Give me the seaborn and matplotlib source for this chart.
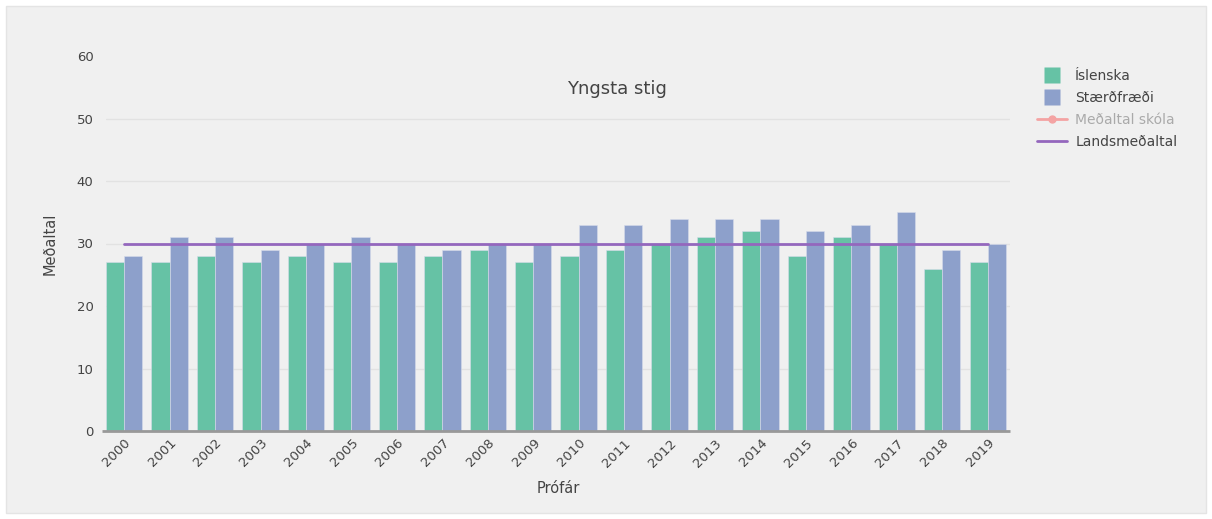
import numpy as np
import pandas as pd
import seaborn as sns
import matplotlib.pyplot as plt
from matplotlib.patches import Rectangle
from matplotlib.lines import Line2D

# Data
years = [str(y) for y in range(2000, 2020)]
islenska = [27, 27, 28, 27, 28, 27, 27, 28, 29, 27, 28, 29, 30, 31, 32, 28, 31, 30, 26, 27]
staerdfraedi = [28, 31, 31, 29, 30, 31, 30, 29, 30, 30, 33, 33, 34, 34, 34, 32, 33, 35, 29, 30]
landsmedaltal = [30] * len(years)

df = pd.DataFrame({
    'Prófár': years * 2,
    'Meðaltal': islenska + staerdfraedi,
    'Fag': ['Íslenska'] * len(years) + ['Stærðfræði'] * len(years),
})

sns.set_theme(style='white')
plt.rcParams['font.family'] = ['DejaVu Sans']
txt = '#444444'
bg = '#f0f0f0'

fig = plt.figure(figsize=(12.12, 5.19), dpi=100, facecolor='white')
# grey panel behind everything
fig.patches.append(Rectangle((6 / 1212, 6 / 519), 1200 / 1212, 507 / 519,
                             transform=fig.transFigure, facecolor=bg,
                             edgecolor='#e4e4e4', lw=1, zorder=-10))
ax = fig.add_axes([106 / 1212, 1 - 431 / 519, 904 / 1212, 375 / 519])
ax.set_facecolor(bg)

palette = {'Íslenska': '#66c2a5', 'Stærðfræði': '#8da0cb'}
sns.barplot(data=df, x='Prófár', y='Meðaltal', hue='Fag', palette=palette,
            width=0.8, edgecolor='#d6dcea', linewidth=0.4, ax=ax,
            saturation=1, legend=False, zorder=3)

# national average line, from first to last category centre
ax.plot(np.arange(len(years)), landsmedaltal, color='#9467bd', lw=2, zorder=4)

xmin, xmax = -0.4, 19.49
ax.set_ylim(0, 60)
ax.set_xlim(xmin, xmax)
ax.set_yticks(range(0, 61, 10))
for v in range(10, 60, 10):
    ax.axhline(v, color='#e2e2e2', lw=1, zorder=0)
for s in ['top', 'right', 'left', 'bottom']:
    ax.spines[s].set_visible(False)
# zero line with small stub to the left
ax.plot([xmin - 4 / 45.45, xmax], [0, 0], color='#999999', lw=2,
        clip_on=False, zorder=5, solid_capstyle='butt')

ax.tick_params(axis='x', labelrotation=45, labelsize=9.5, colors=txt, length=0, pad=4)
ax.tick_params(axis='y', labelsize=9.5, colors=txt, length=0, pad=9)
for lab in ax.get_xticklabels():
    lab.set_ha('right')
    lab.set_rotation_mode('anchor')

ax.set_xlabel('Prófár', fontsize=10.5, color=txt, labelpad=8)
ax.set_ylabel('Meðaltal', fontsize=10.5, color=txt, labelpad=14)
ax.text(0.565, 0.912, 'Yngsta stig', transform=ax.transAxes, ha='center',
        va='center', fontsize=13, color=txt)

handles = [
    Line2D([0], [0], color='none', marker='s', markersize=11,
           markerfacecolor='#66c2a5', markeredgecolor='none'),
    Line2D([0], [0], color='none', marker='s', markersize=11,
           markerfacecolor='#8da0cb', markeredgecolor='none'),
    Line2D([0], [0], color='#f4a3a3', marker='o', markersize=5, lw=2),
    Line2D([0], [0], color='#9467bd', lw=2),
]
labels = ['Íslenska', 'Stærðfræði', 'Meðaltal skóla', 'Landsmeðaltal']
leg = fig.legend(handles, labels, loc='upper left',
                 bbox_to_anchor=(1024 / 1212, 1 - 56 / 519), frameon=False,
                 fontsize=10, handlelength=2.2, labelspacing=0.58,
                 handletextpad=0.6)
for i, t in enumerate(leg.get_texts()):
    t.set_color('#aaaaaa' if i == 2 else txt)

fig.savefig('out.png', dpi=100, facecolor='white')
